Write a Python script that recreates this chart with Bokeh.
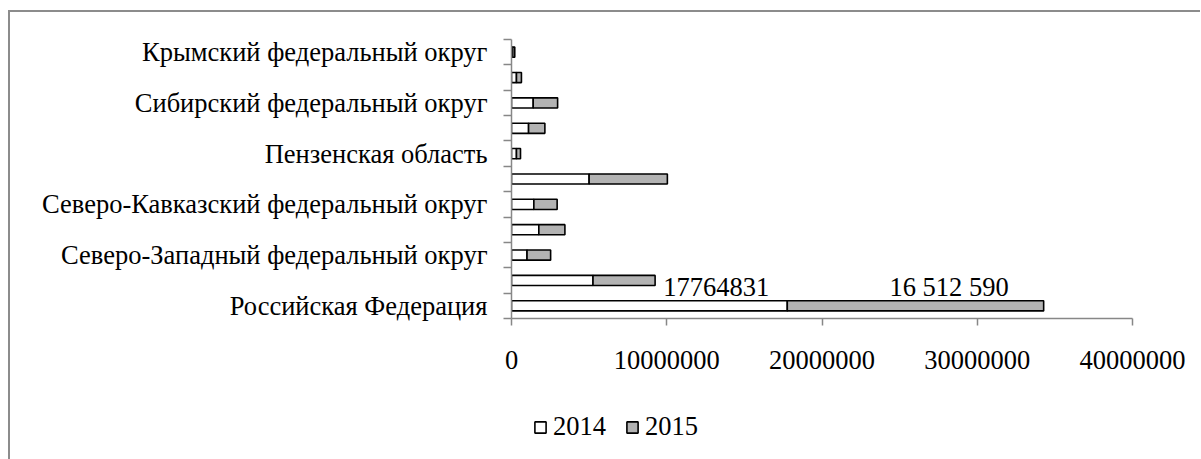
from bokeh.plotting import figure
from bokeh.layouts import column
from bokeh.models import (ColumnDataSource, Range1d, FixedTicker, LinearAxis,
                          Legend, LegendItem, LabelSet)
from bokeh.embed import file_html
from bokeh.resources import INLINE

# ---- data (bottom to top) ----
categories = [
    "Российская Федерация",
    "Центральный федеральный округ",
    "Северо-Западный федеральный округ",
    "Южный федеральный округ",
    "Северо-Кавказский федеральный округ",
    "Приволжский федеральный округ",
    "Пензенская область",
    "Уральский федеральный округ",
    "Сибирский федеральный округ",
    "Дальневосточный федеральный округ",
    "Крымский федеральный округ",
]
values_2014 = [17764831, 5250000, 1000000, 1760000, 1440000, 5000000,
               320000, 1100000, 1400000, 320000, 80000]
values_2015 = [16512590, 4000000, 1520000, 1680000, 1500000, 5040000,
               260000, 1050000, 1570000, 320000, 130000]
series_names = ["2014", "2015"]
series_colors = ["white", "#b3b3b3"]
shown_label_every = 2
x_ticks = [0, 10000000, 20000000, 30000000, 40000000]
x_tick_labels = ["0", "10000000", "20000000", "30000000", "40000000"]
data_label_texts = ["17764831", "16 512 590"]

FONT = "Liberation Serif"
FS = "26.5px"
AXIS_COLOR = "#878787"

ypos = [i + 0.5 for i in range(len(categories))]
end14 = list(values_2014)
end15 = [a + b for a, b in zip(values_2014, values_2015)]

src = ColumnDataSource(dict(y=ypos, v14=values_2014, v15=values_2015,
                            e14=end14, e15=end15))


def style_bars(fig):
    r1 = fig.hbar(y="y", left=0, right="e14", height=0.4, source=src,
                  fill_color=series_colors[0], line_color="black", line_width=1.6)
    r2 = fig.hbar(y="y", left="e14", right="e15", height=0.4, source=src,
                  fill_color=series_colors[1], line_color="black", line_width=1.6)
    return [r1, r2]


p = figure(width=1190, height=390, output_backend="svg", toolbar_location=None,
           x_range=Range1d(0, 40000000), y_range=Range1d(0, len(categories)),
           min_border_left=501, min_border_right=68, min_border_top=27,
           min_border_bottom=84, x_axis_location=None, y_axis_location=None)
p.outline_line_color = None
p.xgrid.visible = False
p.ygrid.visible = False
p.background_fill_color = "white"
p.border_fill_color = "white"
style_bars(p)

label_idx = list(range(0, len(categories), shown_label_every))
yaxis = LinearAxis(
    ticker=FixedTicker(ticks=[ypos[i] for i in label_idx],
                       minor_ticks=list(range(len(categories) + 1))),
    major_label_overrides={ypos[i]: categories[i] for i in label_idx},
    axis_line_color=AXIS_COLOR, axis_line_width=1.5,
    major_tick_line_color=None, major_tick_in=0, major_tick_out=0,
    minor_tick_line_color=AXIS_COLOR, minor_tick_line_width=1.5,
    minor_tick_in=0, minor_tick_out=8,
    major_label_standoff=16,
    major_label_text_font=FONT, major_label_text_font_size=FS,
    major_label_text_color="black")
p.add_layout(yaxis, "left")

xaxis = LinearAxis(
    ticker=FixedTicker(ticks=x_ticks, minor_ticks=[]),
    major_label_overrides={t: l for t, l in zip(x_ticks, x_tick_labels)},
    axis_line_color=AXIS_COLOR, axis_line_width=1.5,
    major_tick_line_color=AXIS_COLOR, major_tick_line_width=1.5,
    major_tick_in=0, major_tick_out=7,
    minor_tick_line_color=None,
    major_label_standoff=25,
    major_label_text_font=FONT, major_label_text_font_size=FS,
    major_label_text_color="black")
p.add_layout(xaxis, "below")

lab_src = ColumnDataSource(dict(x=[end14[0], end15[0]], y=[ypos[0], ypos[0]],
                                t=data_label_texts, xo=[-18, -35]))
labels = LabelSet(x="x", y="y", text="t", source=lab_src, x_offset="xo",
                  y_offset=10, text_align="right", text_baseline="alphabetic",
                  text_font=FONT, text_font_size=FS, text_color="black")
p.add_layout(labels)

# ---- legend strip below the chart (its bar renderers are hidden) ----
p2 = figure(width=1190, height=57, output_backend="svg", toolbar_location=None,
            x_range=Range1d(0, 40000000), y_range=Range1d(0, len(categories)),
            min_border_left=501, min_border_right=68, min_border_top=0,
            min_border_bottom=0, x_axis_location=None, y_axis_location=None)
p2.outline_line_color = None
p2.xgrid.visible = False
p2.ygrid.visible = False
p2.border_fill_color = "white"
proxies = style_bars(p2)
for r in proxies:
    r.visible = False
legend = Legend(items=[LegendItem(label=n, renderers=[r])
                       for n, r in zip(series_names, proxies)],
                location=(22, 17), orientation="horizontal",
                glyph_width=14, glyph_height=14, label_standoff=6, spacing=19,
                padding=0, margin=0, border_line_color=None,
                background_fill_alpha=0, inactive_fill_alpha=0,
                label_text_font=FONT, label_text_font_size=FS,
                label_text_color="black")
p2.add_layout(legend)

layout = column(p, p2, spacing=0, margin=(10, 0, 0, 8),
                styles={"border-left": "2px solid #8c8c8c",
                        "border-top": "2px solid #8c8c8c"})

open("out.html", "w").write(file_html(layout, INLINE))
